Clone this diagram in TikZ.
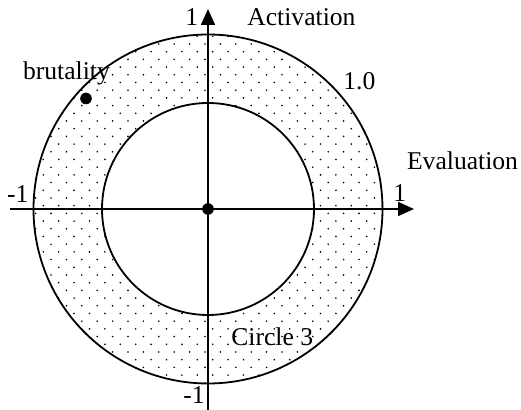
\documentclass[tikz,border=0pt]{standalone}
\usepackage{fontspec}
\setmainfont{Liberation Serif}
\usetikzlibrary{arrows.meta}

\begin{document}
\begin{tikzpicture}[
    x=0.5pt, y=-0.5pt,
    font=\fontsize{12.8}{15}\selectfont,
    lbl/.style={anchor=base west, inner sep=0pt},
    ring/.style={line width=0.9pt},
    axis/.style={line width=0.9pt, -{Triangle[length=8pt, width=7pt]}},
    bigdot/.style={circle, fill, inner sep=0pt, minimum size=5.8pt}
  ]
  \useasboundingbox (0,0) rectangle (521,410);
  \coordinate (o) at (208,209);
  \coordinate (w) at (10,209);
  \coordinate (e) at (414,209);
  \coordinate (s) at (208,412);
  \coordinate (n) at (208,9);
  % dotted band between the two circles
  \begin{scope}[even odd rule]
    \clip (o) circle (174.5) (o) circle (106);
    \foreach \m in {-23,...,24} {
      \foreach \k in {-1,...,23} {
        \fill ({43.3+15.4*\k+7.7*mod(\m+30,2)}, {205.7+7.7*\m}) circle (0.9);
      }
    }
  \end{scope}
  \draw[ring] (o) circle (174.5);
  \draw[ring] (o) circle (106);
  \draw[axis] (w) -- (e);
  \draw[axis] (s) -- (n);
  \node[bigdot] (origin) at (o) {};
  \node[bigdot] (brut) at (86,98.5) {};
  % labels
  \node[lbl] (ntop) at (185,26) {1};
  \node[lbl] (act) at (247,26) {Activation};
  \node[lbl] (brutlbl) at (22.7,80) {brutality};
  \node[lbl] (one) at (343,90) {1.0};
  \node[lbl] (eval) at (406.7,170) {Evaluation};
  \node[lbl] (nleft) at (6.7,202.5) {-1};
  \node[lbl] (nright) at (393,201.5) {1};
  \node[lbl] (circ) at (231,346) {Circle 3};
  \node[lbl] (nbot) at (183,404) {-1};
\end{tikzpicture}
\end{document}
